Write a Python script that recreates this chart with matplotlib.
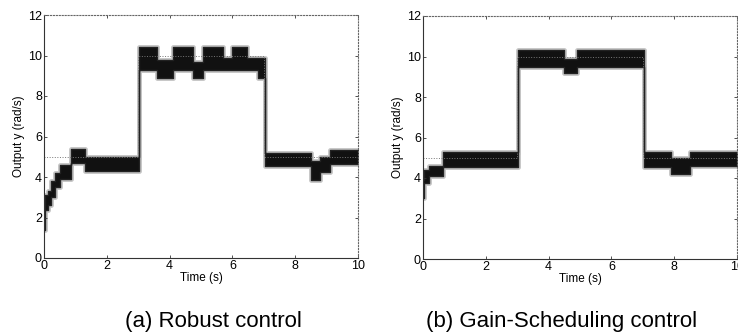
import matplotlib
matplotlib.use('Agg')
import matplotlib.pyplot as plt

plt.rcParams['font.family'] = ['Liberation Sans', 'DejaVu Sans']

# band of the noisy output: step start time, lower edge, upper edge
robust_t = [0.00, 0.03, 0.12, 0.22, 0.35, 0.50, 0.85, 1.30, 3.02, 3.60, 4.10,
            4.75, 5.07, 5.70, 6.00, 6.45, 6.80, 7.05, 8.50, 8.80, 9.10, 10.0]
robust_lo = [1.4, 2.35, 2.6, 3.0, 3.5, 3.9, 4.7, 4.3, 9.3, 8.9, 9.3,
             8.9, 9.3, 9.3, 9.3, 9.3, 8.9, 4.55, 3.85, 4.25, 4.65, 4.65]
robust_hi = [2.4, 3.1, 3.3, 3.8, 4.2, 4.6, 5.4, 5.0, 10.4, 9.8, 10.4,
             9.7, 10.4, 9.9, 10.4, 9.9, 9.9, 5.2, 4.8, 5.0, 5.35, 5.35]

gs_t = [0.00, 0.03, 0.20, 0.65, 3.02, 4.50, 4.90, 7.03, 7.90, 8.50, 10.0]
gs_lo = [3.0, 3.75, 4.1, 4.55, 9.5, 9.2, 9.5, 4.55, 4.2, 4.6, 4.6]
gs_hi = [3.9, 4.4, 4.6, 5.3, 10.3, 9.9, 10.3, 5.3, 5.0, 5.3, 5.3]

# reference speed
ref_t = [0, 3, 7, 10]
ref_v = [5, 10, 5, 5]

captions = ['(a) Robust control', '(b) Gain-Scheduling control']

fig = plt.figure(figsize=(7.38, 3.34), dpi=100)
ax1 = fig.add_axes([44/738, 1 - 258/334, 314/738, 243/334])
ax2 = fig.add_axes([423/738, 1 - 259/334, 314/738, 243/334])

for ax, t, lo, hi in [(ax1, robust_t, robust_lo, robust_hi),
                      (ax2, gs_t, gs_lo, gs_hi)]:
    ax.step(ref_t, ref_v, where='post', color='#777777', lw=0.7, ls=':')
    # grey halo for the scanned noise, then the dense black band
    ax.fill_between(t, lo, hi, step='post', color='#cccccc',
                    edgecolor='#c4c4c4', lw=3.5)
    ax.fill_between(t, lo, hi, step='post', color='#111111',
                    edgecolor='#222222', lw=1.0)
    ax.set_xlim(0, 10)
    ax.set_ylim(0, 12)
    ax.set_xticks(range(0, 11, 2))
    ax.set_yticks(range(0, 13, 2))
    ax.tick_params(direction='in', length=2, width=0.6, labelsize=9,
                   top=True, right=True, pad=1.5, colors='#333333',
                   labelcolor='black')
    for side in ['top', 'right']:
        ax.spines[side].set_linestyle(':')
        ax.spines[side].set_color('#666666')
    for side in ['left', 'bottom']:
        ax.spines[side].set_color('#333333')
        ax.spines[side].set_linewidth(0.8)
    ax.set_xlabel('Time (s)', fontsize=8.5, labelpad=0)
    ax.set_ylabel('Output y (rad/s)', fontsize=8.5, labelpad=2)

fig.text(213/738, 1 - 322/334, captions[0], fontsize=16, ha='center', va='center')
fig.text(562/738, 1 - 322/334, captions[1], fontsize=16, ha='center', va='center')

fig.savefig('out.png', dpi=100)
